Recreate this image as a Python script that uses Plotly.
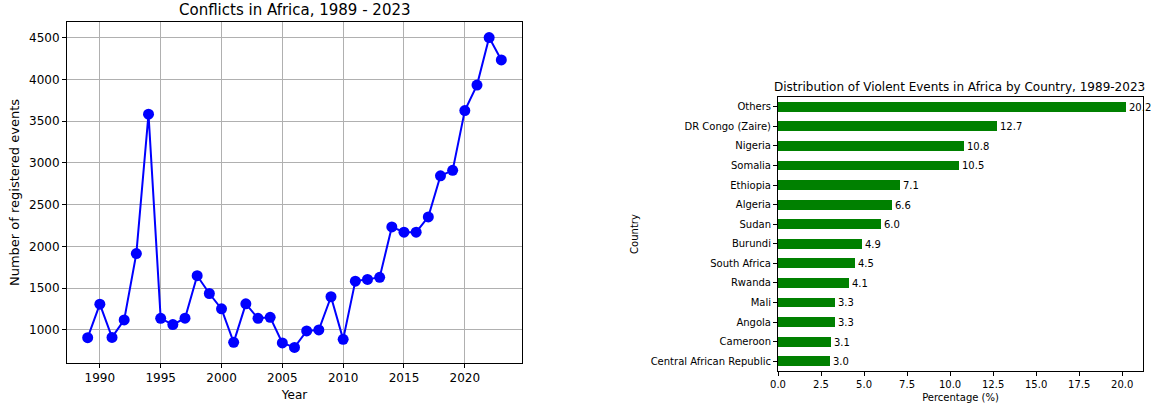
import plotly.graph_objects as go

# ---- Data: left chart (events per year) ----
years = list(range(1989, 2024))
events = [907, 1308, 910, 1120, 1914, 3583, 1139, 1064, 1140, 1649,
          1436, 1252, 851, 1312, 1139, 1151, 844, 791, 988, 1000,
          1397, 887, 1584, 1605, 1629, 2233, 2170, 2170, 2353, 2845,
          2910, 3626, 3931, 4500, 4232]

# ---- Data: right chart (share by country, top to bottom) ----
countries = ["Others", "DR Congo (Zaire)", "Nigeria", "Somalia", "Ethiopia",
             "Algeria", "Sudan", "Burundi", "South Africa", "Rwanda", "Mali",
             "Angola", "Cameroon", "Central African Republic"]
percentages = [20.2, 12.7, 10.8, 10.5, 7.1, 6.6, 6.0, 4.9, 4.5, 4.1, 3.3, 3.3, 3.1, 3.0]

W, H = 1155, 407
FONT = "DejaVu Sans"


def px_x(p):
    return p / W


def px_y(p):
    return 1 - p / H


fig = go.Figure()

fig.add_trace(go.Scatter(
    x=years, y=events, mode="lines+markers",
    line=dict(color="#0000ff", width=2),
    marker=dict(color="#0000ff", size=11),
    xaxis="x", yaxis="y", showlegend=False,
))

fig.add_trace(go.Bar(
    x=percentages, y=countries, orientation="h",
    marker=dict(color="#008000", line=dict(width=0)),
    width=0.5,
    text=[f"{v:.1f}" for v in percentages],
    textposition="outside", cliponaxis=False, constraintext="none",
    textfont=dict(family=FONT, size=10, color="#000000"),
    xaxis="x2", yaxis="y2", showlegend=False,
))

axis_common = dict(
    showline=True, linecolor="#000000", linewidth=1, mirror=True,
    ticks="outside", ticklen=4, tickcolor="#000000", zeroline=False,
    automargin=False,
)

fig.update_layout(
    width=W, height=H,
    margin=dict(l=0, r=0, t=0, b=0),
    paper_bgcolor="white", plot_bgcolor="white",
    font=dict(family=FONT, color="#000000"),
    bargap=0,
    xaxis=dict(
        domain=[px_x(67), px_x(522)], anchor="y",
        range=[1987.3, 2024.7], tickmode="array",
        tickvals=[1990, 1995, 2000, 2005, 2010, 2015, 2020],
        showgrid=True, gridcolor="#b0b0b0", gridwidth=0.8,
        tickfont=dict(size=12),
        title=dict(text="Year", font=dict(size=12), standoff=6),
        **axis_common,
    ),
    yaxis=dict(
        domain=[px_y(363), px_y(22)], anchor="x",
        range=[604, 4686], tickmode="array",
        tickvals=[1000, 1500, 2000, 2500, 3000, 3500, 4000, 4500],
        showgrid=True, gridcolor="#b0b0b0", gridwidth=0.8,
        tickfont=dict(size=12),
        title=dict(text="Number of registered events", font=dict(size=13), standoff=6),
        **axis_common,
    ),
    xaxis2=dict(
        domain=[px_x(778), px_x(1143)], anchor="y2",
        range=[0, 21.21], tickmode="array",
        tickvals=[0, 2.5, 5, 7.5, 10, 12.5, 15, 17.5, 20],
        ticktext=["0.0", "2.5", "5.0", "7.5", "10.0", "12.5", "15.0", "17.5", "20.0"],
        showgrid=False, tickfont=dict(size=10),
        title=dict(text="Percentage (%)", font=dict(size=10), standoff=4),
        **axis_common,
    ),
    yaxis2=dict(
        domain=[px_y(371), px_y(97)], anchor="x2",
        type="category", categoryorder="array", categoryarray=countries,
        range=[13.5, -0.5], showgrid=False, tickfont=dict(size=10),
        title=dict(text="Country", font=dict(size=10), standoff=10),
        **axis_common,
    ),
    annotations=[
        dict(text="Conflicts in Africa, 1989 - 2023", x=px_x(294.5), y=px_y(10),
             xref="paper", yref="paper", xanchor="center", yanchor="middle",
             showarrow=False, font=dict(size=15, family=FONT, color="#000000")),
        dict(text="Distribution of Violent Events in Africa by Country, 1989-2023",
             x=px_x(959), y=px_y(87), xref="paper", yref="paper",
             xanchor="center", yanchor="middle", showarrow=False,
             font=dict(size=12, family=FONT, color="#000000")),
    ],
)

fig.write_html("out.html")
